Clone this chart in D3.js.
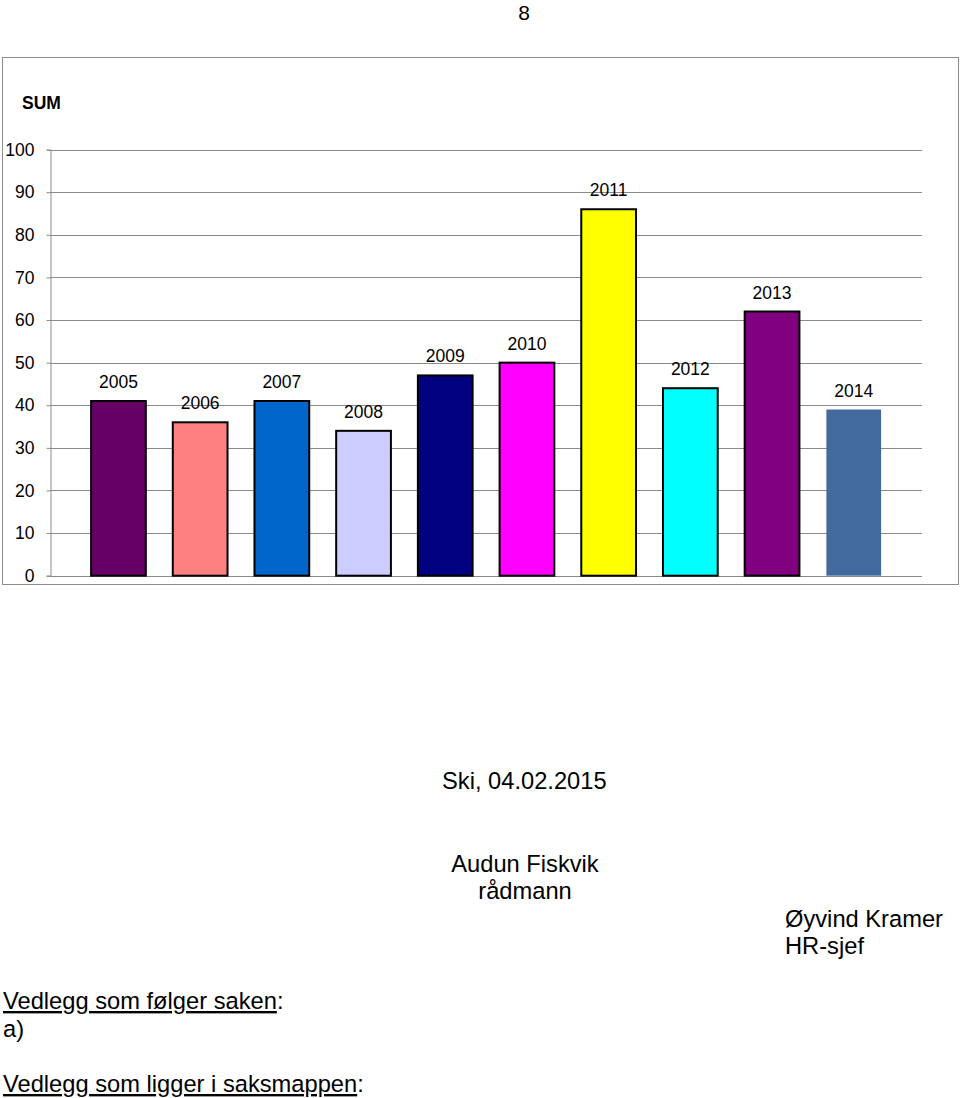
<!DOCTYPE html>
<html>
<head>
<meta charset="utf-8">
<script src="https://cdn.jsdelivr.net/npm/d3@7"></script>
<style>
  body { margin: 0; background: #fff; }
  svg { display: block; font-family: "Liberation Sans", Arial, sans-serif; }
</style>
</head>
<body>
<svg id="chart" width="960" height="1098"></svg>
<script>
const categories = ["2005", "2006", "2007", "2008", "2009", "2010", "2011", "2012", "2013", "2014"];
const values = [41, 36, 41, 34, 47, 50, 86, 44, 62, 39];
const colors = ["#660066", "#ff8080", "#0066cc", "#ccccff", "#000080", "#ff00ff", "#ffff00", "#00ffff", "#800080", "#426a9c"];
const outlined = [true, true, true, true, true, true, true, true, true, false];
const yTicks = [0, 10, 20, 30, 40, 50, 60, 70, 80, 90, 100];
const chartTitle = "SUM";

const svg = d3.select("#chart");

// page number
svg.append("text").attr("x", 524).attr("y", 20).attr("text-anchor", "middle")
  .attr("font-size", 21).text("8");

// chart frame
svg.append("rect").attr("x", 2.5).attr("y", 57.5).attr("width", 956).attr("height", 527)
  .attr("fill", "#fff").attr("stroke", "#8c8c8c").attr("stroke-width", 1);

svg.append("text").attr("x", 22).attr("y", 109).attr("font-size", 17.5).attr("font-weight", "bold")
  .text(chartTitle);

const y = d3.scaleLinear().domain([0, 100]).range([575.7, 149.6]);
const x = d3.scaleBand().domain(categories).range([77.6, 894.6]).paddingInner(0.33).paddingOuter(0.165);

// gridlines
svg.append("g").selectAll("line").data(yTicks).join("line")
  .attr("x1", 50).attr("x2", 922)
  .attr("y1", d => Math.round(y(d)) + 0.5).attr("y2", d => Math.round(y(d)) + 0.5)
  .attr("stroke", "#8a8a8a").attr("stroke-width", 1);

// y axis
const yAxis = d3.axisLeft(y).tickValues(yTicks).tickSize(4).tickPadding(12);
const gy = svg.append("g").attr("transform", "translate(50.5,0)").call(yAxis);
gy.select(".domain").attr("stroke", "#8a8a8a");
gy.selectAll(".tick line").attr("stroke", "#8a8a8a");
gy.selectAll(".tick text").attr("font-size", 17.5).attr("fill", "#000")
  .attr("font-family", "'Liberation Sans', Arial, sans-serif");

// bars
svg.append("g").selectAll("rect").data(categories).join("rect")
  .attr("x", d => x(d))
  .attr("y", (d, i) => y(values[i]))
  .attr("width", x.bandwidth())
  .attr("height", (d, i) => y(0) - y(values[i]))
  .attr("fill", (d, i) => colors[i])
  .attr("stroke", (d, i) => outlined[i] ? "#000" : "none")
  .attr("stroke-width", 2);

// labels
svg.append("g").selectAll("text").data(categories).join("text")
  .attr("x", d => x(d) + x.bandwidth() / 2)
  .attr("y", (d, i) => y(values[i]) - 13)
  .attr("text-anchor", "middle").attr("font-size", 17.5)
  .text(d => d);

// document text
const fs = 23.7;
svg.append("text").attr("x", 442).attr("y", 789).attr("font-size", fs).text("Ski, 04.02.2015");
svg.append("text").attr("x", 525).attr("y", 872).attr("font-size", fs).attr("text-anchor", "middle").text("Audun Fiskvik");
svg.append("text").attr("x", 525).attr("y", 899).attr("font-size", fs).attr("text-anchor", "middle").text("rådmann");
svg.append("text").attr("x", 785).attr("y", 927).attr("font-size", fs).text("Øyvind Kramer");
svg.append("text").attr("x", 785).attr("y", 954).attr("font-size", fs).text("HR-sjef");

const t1 = svg.append("text").attr("x", 3).attr("y", 1009).attr("font-size", fs);
t1.append("tspan").attr("text-decoration", "underline").text("Vedlegg som følger saken");
t1.append("tspan").text(":");
svg.append("text").attr("x", 3).attr("y", 1037).attr("font-size", fs).text("a)");
const t2 = svg.append("text").attr("x", 3).attr("y", 1092).attr("font-size", fs);
t2.append("tspan").attr("text-decoration", "underline").text("Vedlegg som ligger i saksmappen");
t2.append("tspan").text(":");
</script>
</body>
</html>
